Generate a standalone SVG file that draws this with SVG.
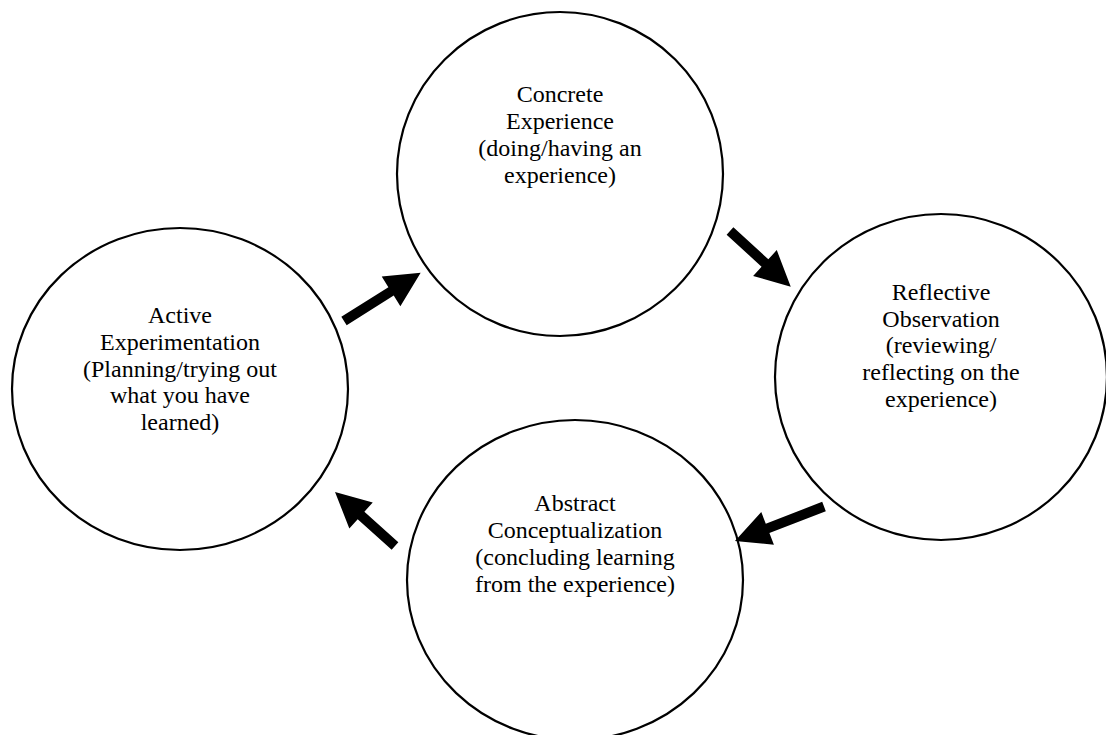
<svg xmlns="http://www.w3.org/2000/svg" width="1106" height="735" viewBox="0 0 1106 735">
<style>
.n{fill:#fff;stroke:#000;stroke-width:2.2}
.t{font-family:"Liberation Serif","Times New Roman",serif;font-size:24px;fill:#000;text-anchor:middle}
.a{fill:#000;stroke:none}
</style>
<rect width="1106" height="735" fill="#fff"/>
<g id="concrete">
<ellipse class="n" cx="560" cy="174" rx="163" ry="162"/>
<text class="t"><tspan x="560" y="102">Concrete</tspan><tspan x="560" y="129">Experience</tspan><tspan x="560" y="156">(doing/having an</tspan><tspan x="560" y="183">experience)</tspan></text>
</g>
<g id="reflective">
<ellipse class="n" cx="941" cy="377" rx="166" ry="163"/>
<text class="t"><tspan x="941" y="300">Reflective</tspan><tspan x="941" y="327">Observation</tspan><tspan x="941" y="353">(reviewing/</tspan><tspan x="941" y="380">reflecting on the</tspan><tspan x="941" y="407">experience)</tspan></text>
</g>
<g id="abstract">
<ellipse class="n" cx="575" cy="580" rx="168" ry="160"/>
<text class="t"><tspan x="575" y="511">Abstract</tspan><tspan x="575" y="538">Conceptualization</tspan><tspan x="575" y="565">(concluding learning</tspan><tspan x="575" y="592">from the experience)</tspan></text>
</g>
<g id="active">
<ellipse class="n" cx="180" cy="389" rx="168" ry="161"/>
<text class="t"><tspan x="180" y="323">Active</tspan><tspan x="180" y="350">Experimentation</tspan><tspan x="180" y="377">(Planning/trying out</tspan><tspan x="180" y="403">what you have</tspan><tspan x="180" y="430">learned)</tspan></text>
</g>
<g id="connectors">
<path class="a" transform="translate(344,321) rotate(-32.2)" d="M0,-5 L55.6,-5 L55.6,-17.5 L90.6,0 L55.6,17.5 L55.6,5 L0,5 Z"/>
<path class="a" transform="translate(730,231) rotate(42.5)" d="M0,-5 L47.4,-5 L47.4,-17.5 L82.4,0 L47.4,17.5 L47.4,5 L0,5 Z"/>
<path class="a" transform="translate(824,506.5) rotate(158.8)" d="M0,-5 L60.5,-5 L60.5,-17.5 L95.5,0 L60.5,17.5 L60.5,5 L0,5 Z"/>
<path class="a" transform="translate(395,546) rotate(-138)" d="M0,-5 L45.7,-5 L45.7,-17.5 L80.7,0 L45.7,17.5 L45.7,5 L0,5 Z"/>
</g>
</svg>
